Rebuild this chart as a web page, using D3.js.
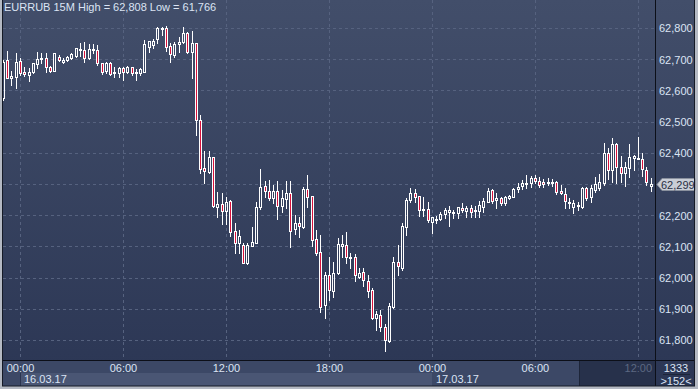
<!DOCTYPE html>
<html>
<head>
<meta charset="utf-8">
<script src="https://cdn.jsdelivr.net/npm/d3@7"></script>
<style>
  body { margin: 0; background: #b4b9c3; }
  svg { display: block; }
  text { font-family: "Liberation Sans", Arial, sans-serif; font-size: 11px; }
</style>
</head>
<body>
<svg></svg>
<script>
// 15 minute candles, EURRUB, 15.03.17 23:00 -> 17.03.17 12:45
var symbol = "EURRUB 15M";
var firstBar = new Date(2017, 2, 15, 23, 0);
var barMinutes = 15;

var opens = [62576,62697,62640,62643,62694,62659,62649,62659,62685,62701,62704,62675,62662,62707,62691,62697,
  62704,62710,62729,62729,62704,62729,62729,62688,62662,62688,62656,62656,62672,62659,62675,62656,62656,62659,
  62739,62746,62765,62797,62800,62742,62713,62749,62755,62784,62723,62752,62505,62351,62338,62386,62226,62236,
  62213,62246,62149,62111,62105,62047,62101,62111,62226,62294,62278,62255,62278,62230,62252,62271,62156,62175,
  62162,62284,62262,62124,62082,61912,62008,61957,62015,62101,62105,62063,62066,62002,62018,61989,61960,61870,
  61880,61842,61797,61906,62050,62031,62162,62249,62271,62262,62217,62220,62178,62185,62188,62204,62210,62207,
  62207,62223,62213,62223,62213,62213,62226,62242,62281,62249,62255,62239,62255,62258,62284,62294,62300,62303,
  62319,62310,62306,62303,62303,62306,62278,62268,62239,62226,62230,62226,62287,62258,62281,62287,62303,62399,
  62345,62428,62354,62335,62351,62383,62383,62380,62345,62294];
var highs = [62697,62726,62662,62720,62704,62675,62672,62688,62723,62720,62720,62678,62720,62713,62704,62710,
  62720,62736,62752,62755,62749,62749,62746,62688,62691,62691,62675,62675,62675,62678,62675,62669,62672,62762,
  62758,62765,62803,62803,62808,62752,62755,62771,62803,62787,62790,62752,62521,62406,62406,62386,62274,62271,
  62258,62249,62175,62153,62111,62111,62162,62242,62348,62310,62313,62297,62310,62281,62310,62310,62201,62194,
  62290,62329,62262,62153,62137,62018,62066,62050,62127,62137,62146,62079,62076,62031,62031,62008,61967,61893,
  61896,61851,61919,62066,62105,62175,62255,62287,62284,62262,62258,62242,62194,62197,62210,62223,62230,62217,
  62226,62239,62230,62233,62230,62246,62255,62287,62284,62271,62258,62262,62265,62287,62303,62313,62329,62326,
  62329,62322,62316,62319,62316,62310,62297,62287,62255,62249,62242,62290,62290,62297,62322,62332,62431,62415,
  62447,62431,62390,62370,62428,62393,62450,62399,62354,62319];
var lows = [62569,62640,62617,62608,62649,62646,62630,62656,62672,62688,62659,62659,62662,62694,62688,62694,
  62701,62707,62710,62691,62701,62720,62681,62653,62656,62649,62643,62643,62633,62656,62649,62633,62649,62659,
  62723,62736,62752,62778,62726,62691,62707,62723,62752,62720,62640,62457,62335,62303,62335,62226,62194,62172,
  62172,62133,62079,62079,62047,62044,62101,62111,62220,62258,62249,62239,62188,62210,62223,62098,62140,62130,
  62159,62226,62101,62072,61890,61870,61928,61938,62011,62066,62047,62031,61989,61999,61973,61938,61867,61832,
  61829,61766,61794,61903,62008,62024,62137,62242,62242,62197,62197,62178,62143,62175,62185,62191,62165,62191,
  62191,62210,62194,62194,62194,62194,62210,62242,62239,62223,62233,62233,62252,62258,62274,62284,62287,62290,
  62303,62290,62290,62297,62294,62268,62268,62223,62223,62207,62217,62223,62249,62242,62274,62281,62297,62316,
  62306,62303,62306,62294,62322,62345,62380,62326,62297,62278];
var closes = [62691,62640,62646,62691,62656,62653,62659,62688,62701,62704,62675,62662,62720,62697,62697,62707,
  62717,62736,62733,62704,62733,62733,62688,62659,62688,62653,62659,62672,62659,62675,62656,62659,62669,62749,
  62758,62758,62800,62800,62739,62717,62749,62755,62784,62723,62752,62505,62348,62342,62386,62230,62236,62213,
  62242,62146,62111,62133,62047,62105,62114,62226,62290,62278,62255,62278,62230,62255,62271,62149,62175,62165,
  62284,62258,62120,62079,61906,62008,61960,62015,62108,62108,62066,62066,62008,62015,61992,61957,61870,61883,
  61842,61800,61909,62050,62037,62165,62249,62271,62258,62217,62220,62185,62194,62188,62204,62217,62217,62210,
  62226,62217,62223,62210,62217,62233,62246,62278,62246,62255,62239,62258,62262,62284,62290,62303,62303,62319,
  62310,62297,62300,62306,62306,62274,62271,62246,62242,62239,62233,62287,62255,62287,62300,62306,62399,62345,
  62428,62354,62335,62354,62386,62390,62380,62348,62306,62299];

var priceTicks = [61800, 61900, 62000, 62100, 62200, 62300, 62400, 62500, 62600, 62700, 62800];
var dayLabels = ["16.03.17", "17.03.17"];
var barsInView = 152, lastVolume = 1333;

var W = 698, H = 389;
var plotL = 3, plotR = 655, plotT = 0, plotB = 360;

var svg = d3.select("svg").attr("width", W).attr("height", H);

var defs = svg.append("defs");
var grad = defs.append("linearGradient").attr("id", "bg").attr("x1", 0).attr("y1", 0).attr("x2", 0).attr("y2", 1);
grad.append("stop").attr("offset", 0).attr("stop-color", "#424e6a");
grad.append("stop").attr("offset", 1).attr("stop-color", "#2b3654");
defs.append("clipPath").attr("id", "plotclip").append("rect")
    .attr("x", plotL).attr("y", plotT).attr("width", plotR - plotL).attr("height", plotB - plotT);

// window body
svg.append("rect").attr("x", 2).attr("y", 0).attr("width", 693).attr("height", 386).attr("fill", "url(#bg)");

var day16 = new Date(2017, 2, 16, 0, 0);
var x = d3.scaleTime()
    .domain([new Date(+day16 - 59.44 * 60000), new Date(+day16 + 2220 * 60000)])
    .range([plotL, plotR]);
var y = d3.scaleLinear().domain([61800, 62800]).range([340, 28]);

var bars = opens.map(function (o, i) {
    return { t: d3.timeMinute.offset(firstBar, i * barMinutes), o: o, h: highs[i], l: lows[i], c: closes[i] };
});

// grid
var grid = svg.append("g").attr("stroke", "#56627f").attr("stroke-dasharray", "3,3").attr("stroke-width", 1);
grid.selectAll("line.h").data(priceTicks).enter().append("line")
    .attr("x1", plotL).attr("x2", plotR)
    .attr("y1", function (d) { return Math.round(y(d)) + 0.5; })
    .attr("y2", function (d) { return Math.round(y(d)) + 0.5; });
var timeTicks = x.ticks(d3.timeHour.every(6));
grid.selectAll("line.v").data(timeTicks).enter().append("line")
    .attr("y1", plotT).attr("y2", plotB)
    .attr("x1", function (d) { return Math.round(x(d)) + 0.5; })
    .attr("x2", function (d) { return Math.round(x(d)) + 0.5; });

// candles
var plot = svg.append("g").attr("clip-path", "url(#plotclip)");
var candle = plot.selectAll("g.c").data(bars).enter().append("g");
candle.each(function (d) {
    var g = d3.select(this);
    var cx = Math.round(x(d.t));
    var top = Math.round(y(Math.max(d.o, d.c)));
    var bot = Math.round(y(Math.min(d.o, d.c)));
    if (bot - top < 1) bot = top + 1;
    var hi = Math.round(y(d.h)), lo = Math.round(y(d.l));
    g.append("line").attr("x1", cx + 0.5).attr("x2", cx + 0.5).attr("y1", hi).attr("y2", top)
        .attr("stroke", "#ffffff");
    g.append("line").attr("x1", cx + 0.5).attr("x2", cx + 0.5).attr("y1", bot).attr("y2", lo + 1)
        .attr("stroke", "#ffffff");
    g.append("rect")
        .attr("x", cx - 0.5).attr("y", top + 0.5)
        .attr("width", 2).attr("height", bot - top)
        .attr("fill", d.c < d.o ? "#d8123c" : "none")
        .attr("stroke", "#ffffff");
});

// axis frame lines
svg.append("line").attr("x1", plotR + 0.5).attr("x2", plotR + 0.5).attr("y1", 0).attr("y2", 386).attr("stroke", "#0c0f18");
svg.append("line").attr("x1", 2).attr("x2", 695).attr("y1", plotB + 0.5).attr("y2", plotB + 0.5).attr("stroke", "#0c0f18");

// price axis (the label nearest the last price is hidden by its marker)
var lastC = closes[closes.length - 1];
var ly = Math.round(y(lastC)) + 0.5;
var yAxis = svg.append("g").attr("transform", "translate(" + (plotR + 4) + ",0)")
    .call(d3.axisRight(y).tickValues(priceTicks.filter(function (p) { return Math.abs(y(p) - ly) > 10; }))
        .tickSize(0).tickPadding(0).tickFormat(d3.format(",")));
yAxis.select(".domain").remove();
yAxis.selectAll("text").attr("fill", "#dbe4f4").attr("font-size", 11).attr("dy", "0.35em")
    .style("font-family", "'Liberation Sans', Arial, sans-serif");

// last price marker
svg.append("path")
    .attr("d", "M" + 657 + "," + ly + "L662," + (ly - 6) + "L695," + (ly - 6) + "L695," + (ly + 6) + "L662," + (ly + 6) + "Z")
    .attr("fill", "#c9ced7").attr("stroke", "#8a919e");
svg.append("text").attr("x", 661).attr("y", ly + 4).attr("fill", "#2a3044").text(d3.format(",")(lastC));

// time axis rows
svg.append("rect").attr("x", 3).attr("y", 361).attr("width", 652).attr("height", 25).attr("fill", "#3c4866");
svg.append("rect").attr("x", 20).attr("y", 373).attr("width", Math.round(x(d3.timeDay.offset(day16, 1))) - 20).attr("height", 13).attr("fill", "#4a5674");
svg.append("line").attr("x1", 20.5).attr("x2", 20.5).attr("y1", 373).attr("y2", 386).attr("stroke", "#2a3450");
svg.append("rect").attr("x", 580).attr("y", 361).attr("width", 75).attr("height", 25).attr("fill", "#27314b");
svg.append("line").attr("x1", 579.5).attr("x2", 579.5).attr("y1", 361).attr("y2", 386).attr("stroke", "#1d2539");

var xAxis = svg.append("g").attr("transform", "translate(0," + 368 + ")")
    .call(d3.axisBottom(x).ticks(d3.timeHour.every(6)).tickSize(0).tickPadding(0).tickFormat(d3.timeFormat("%H:%M")));
xAxis.select(".domain").remove();
xAxis.selectAll("text").attr("fill", function (d) { return x(d) > 580 ? "#5c6882" : "#dbe4f4"; })
    .attr("dy", "0.35em").attr("y", 0).attr("font-size", 11)
    .style("font-family", "'Liberation Sans', Arial, sans-serif");

svg.selectAll("text.day").data(dayLabels).enter().append("text")
    .attr("x", function (d, i) { return Math.round(x(d3.timeDay.offset(day16, i))) + 4; })
    .attr("y", 383).attr("fill", "#dbe4f4").text(function (d) { return d; });

// corner info
svg.append("text").attr("x", 676).attr("y", 372).attr("text-anchor", "middle").attr("fill", "#dbe4f4").text(lastVolume);
svg.append("line").attr("x1", 663).attr("x2", 690).attr("y1", 374.5).attr("y2", 374.5).attr("stroke", "#1d2539");
svg.append("text").attr("x", 676).attr("y", 385).attr("text-anchor", "middle").attr("fill", "#dbe4f4").text(">" + barsInView + "<");

// title
var hi = d3.max(highs), lo = d3.min(lows);
svg.append("text").attr("x", 4).attr("y", 11).attr("fill", "#dbe4f4")
    .text(symbol + " High = " + d3.format(",")(hi) + " Low = " + d3.format(",")(lo));

// window frame
svg.append("rect").attr("x", 2.5).attr("y", -0.5).attr("width", 692).attr("height", 386.5)
    .attr("fill", "none").attr("stroke", "#151a26");
</script>
</body>
</html>
